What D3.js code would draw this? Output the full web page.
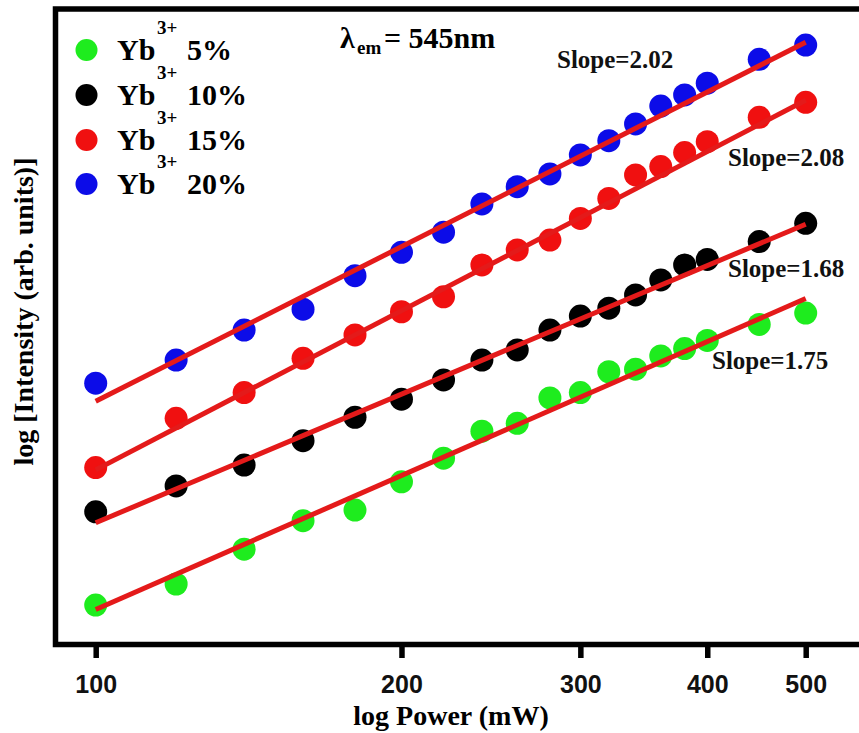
<!DOCTYPE html>
<html>
<head>
<meta charset="utf-8">
<script src="https://cdn.jsdelivr.net/npm/d3@7"></script>
<style>
  html, body { margin: 0; padding: 0; background: #fff; }
  svg { display: block; }
</style>
</head>
<body>
<div id="chart"></div>
<script>
// Excitation power (mW), shared by every series
const power = [100, 120, 140, 160, 180, 200, 220, 240, 260, 280, 300, 320, 340, 360, 380, 400, 450, 500];

// Series names and Yb3+ concentrations
const seriesKeys = ["yb5", "yb10", "yb15", "yb20"];
const concentrations = ["5%", "10%", "15%", "20%"];
const seriesColors = ["#1eec1e", "#000000", "#f01010", "#0c0ce8"];

// log10 of the emission intensity at 545 nm (arbitrary units)
const logI_yb5 = [0.155, 0.238, 0.375, 0.487, 0.529, 0.640, 0.733, 0.839, 0.870, 0.970, 0.991, 1.073, 1.083, 1.135, 1.164, 1.196, 1.259, 1.304];
const logI_yb10 = [0.522, 0.624, 0.706, 0.802, 0.894, 0.965, 1.041, 1.119, 1.159, 1.237, 1.292, 1.323, 1.375, 1.434, 1.493, 1.515, 1.585, 1.657];
const logI_yb15 = [0.696, 0.890, 0.991, 1.126, 1.218, 1.309, 1.368, 1.493, 1.552, 1.591, 1.676, 1.755, 1.847, 1.880, 1.935, 1.978, 2.074, 2.133];
const logI_yb20 = [1.028, 1.119, 1.237, 1.319, 1.451, 1.543, 1.622, 1.733, 1.801, 1.851, 1.926, 1.982, 2.048, 2.118, 2.162, 2.208, 2.302, 2.358];

// Linear fits: log I = intercept + slope * log P
const fitSlopes = [1.75, 1.68, 2.08, 2.02];
const fitIntercepts = [-3.362, -2.881, -3.473, -3.083];

// Axis ticks
const xTicks = [100, 200, 300, 400, 500];

const seriesValues = [logI_yb5, logI_yb10, logI_yb15, logI_yb20];

const W = 859, H = 733;
const frame = { left: 55.5, top: 9, bottom: 644.5, right: 880 };

const svg = d3.select("#chart").append("svg")
  .attr("width", W).attr("height", H);

const x = d3.scaleLog().domain([100, 500]).range([95.7, 805.7]);
const y = d3.scaleLinear().domain([0, 2.5]).range([frame.bottom, frame.top]);

const serif = "'Liberation Serif', 'Times New Roman', serif";
const sans = "'Liberation Sans', Arial, sans-serif";

// Data points
const seriesData = seriesKeys.map((k, i) => ({
  key: k,
  color: seriesColors[i],
  points: power.map((p, j) => ({ p, v: seriesValues[i][j] })),
  slope: fitSlopes[i],
  intercept: fitIntercepts[i]
}));

const gPts = svg.append("g");
seriesData.forEach(s => {
  gPts.append("g").selectAll("circle")
    .data(s.points)
    .join("circle")
    .attr("cx", d => x(d.p))
    .attr("cy", d => y(d.v))
    .attr("r", 11.5)
    .attr("fill", s.color);
});

// Fit lines on top of the points
const line = d3.line().x(d => x(d[0])).y(d => y(d[1]));
const xEnds = x.domain();
seriesData.forEach(s => {
  const pts = xEnds.map(p => [p, s.intercept + s.slope * Math.log10(p)]);
  svg.append("path")
    .attr("d", line(pts))
    .attr("fill", "none")
    .attr("stroke", "#e41a1a")
    .attr("stroke-width", 5);
});

// Frame (left, top and bottom sides)
svg.append("path")
  .attr("d", `M${frame.right},${frame.top}H${frame.left}V${frame.bottom}H${frame.right}`)
  .attr("fill", "none")
  .attr("stroke", "#000")
  .attr("stroke-width", 5.5);

// Bottom axis ticks and labels
const xAxis = d3.axisBottom(x)
  .tickValues(xTicks)
  .tickFormat(d3.format("d"))
  .tickSize(13.5)
  .tickPadding(17);
const gx = svg.append("g")
  .attr("transform", `translate(0,${frame.bottom})`)
  .call(xAxis);
gx.select(".domain").remove();
gx.selectAll(".tick line").attr("stroke", "#000").attr("stroke-width", 5.5);
gx.selectAll(".tick text")
  .attr("fill", "#111")
  .attr("font-family", sans)
  .attr("font-weight", "bold")
  .attr("font-size", 25);

// Axis titles
svg.append("text")
  .attr("x", 451).attr("y", 725)
  .attr("text-anchor", "middle")
  .attr("font-family", serif).attr("font-weight", "bold").attr("font-size", 28)
  .text("log Power (mW)");

svg.append("text")
  .attr("transform", "translate(33,311.5) rotate(-90)")
  .attr("text-anchor", "middle")
  .attr("font-family", serif).attr("font-weight", "bold").attr("font-size", 28)
  .text("log [Intensity (arb. units)]");

// Legend
const legendY = [50, 95, 140, 184];
const gLeg = svg.append("g")
  .attr("font-family", serif).attr("font-weight", "bold");
seriesData.forEach((s, i) => {
  const cy = legendY[i];
  gLeg.append("circle").attr("cx", 86.5).attr("cy", cy).attr("r", 11).attr("fill", s.color);
  const base = cy + 10;
  gLeg.append("text").attr("x", 117).attr("y", base).attr("font-size", 30).text("Yb");
  gLeg.append("text").attr("x", 157).attr("y", base - 26).attr("font-size", 19).text("3+");
  gLeg.append("text").attr("x", 187).attr("y", base).attr("font-size", 30).text(concentrations[i]);
});

// Emission wavelength note
const gT = svg.append("g")
  .attr("font-family", serif).attr("font-weight", "bold");
gT.append("text").attr("x", 340).attr("y", 48).attr("font-size", 30).text("λ");
gT.append("text").attr("x", 357).attr("y", 54).attr("font-size", 19).text("em");
gT.append("text").attr("x", 384).attr("y", 48).attr("font-size", 30).text("= 545nm");

// Slope annotations
const slopePos = [[712, 369], [728, 277], [728, 166], [557, 68]];
seriesData.forEach((s, i) => {
  svg.append("text")
    .attr("x", slopePos[i][0]).attr("y", slopePos[i][1])
    .attr("font-family", serif).attr("font-weight", "bold").attr("font-size", 25)
    .attr("fill", "#111")
    .text("Slope=" + s.slope.toFixed(2));
});
</script>
</body>
</html>
